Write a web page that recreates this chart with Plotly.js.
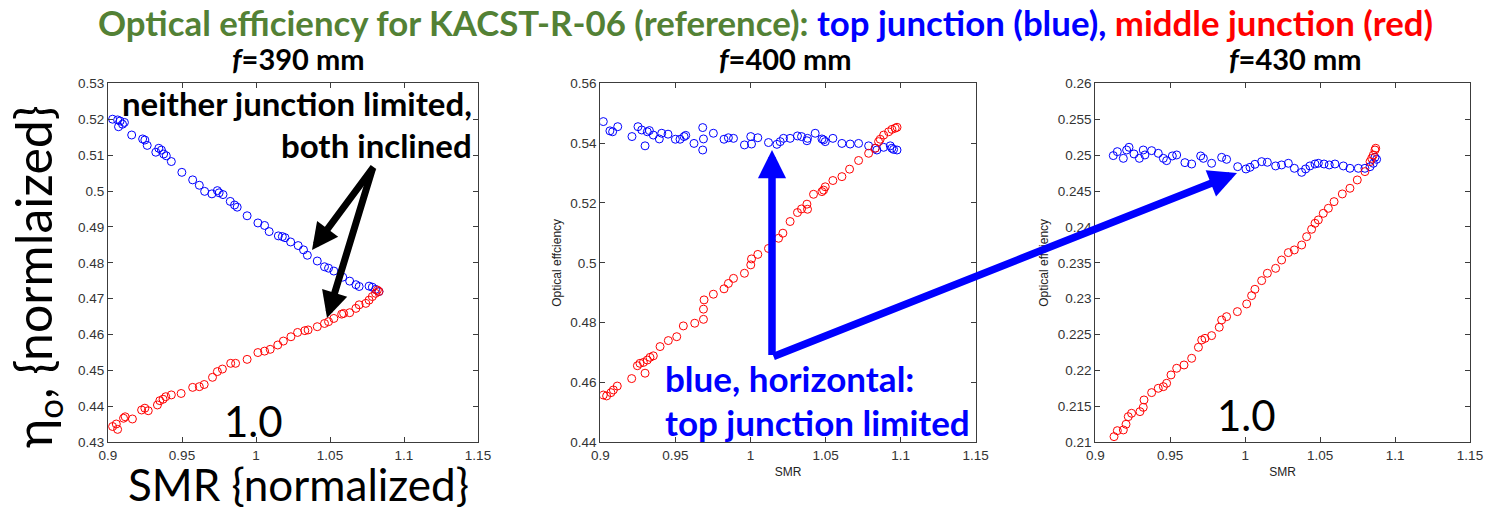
<!DOCTYPE html>
<html>
<head>
<meta charset="utf-8">
<script src="https://cdn.plot.ly/plotly-3.0.1.min.js"></script>
<style>html,body{margin:0;padding:0;background:#fff;}#chart{width:1489px;height:511px;}</style>
</head>
<body>
<div id="chart"></div>
<script>
// ---- Data ----
// f = 390 mm
const smr390Top = [0.9031,0.9065,0.9082,0.9111,0.9071,0.9098,0.9160,0.9234,0.9249,0.9265,0.9323,0.9343,0.9361,0.9376,0.9394,0.9428,0.9499,0.9572,0.9617,0.9653,0.9702,0.9739,0.9751,0.9777,0.9826,0.9855,0.9873,0.9940,1.0013,1.0058,1.0089,1.0151,1.0178,1.0196,1.0234,1.0285,1.0321,1.0347,1.0414,1.0463,1.0490,1.0526,1.0586,1.0633,1.0675,1.0697,1.0764,1.0786,1.0808,1.0831];
const eff390Top = [0.5200,0.5198,0.5195,0.5191,0.5179,0.5186,0.5156,0.5145,0.5142,0.5127,0.5108,0.5119,0.5114,0.5103,0.5098,0.5082,0.5052,0.5031,0.5016,0.4999,0.4992,0.5001,0.4995,0.4990,0.4971,0.4961,0.4955,0.4931,0.4911,0.4904,0.4887,0.4875,0.4873,0.4870,0.4858,0.4848,0.4836,0.4821,0.4805,0.4789,0.4785,0.4777,0.4760,0.4749,0.4739,0.4734,0.4735,0.4732,0.4726,0.4720];
const smr390Mid = [0.9031,0.9065,0.9056,0.9105,0.9116,0.9165,0.9227,0.9249,0.9272,0.9334,0.9350,0.9372,0.9390,0.9428,0.9494,0.9572,0.9617,0.9650,0.9706,0.9739,0.9773,0.9829,0.9862,0.9940,1.0013,1.0058,1.0096,1.0147,1.0185,1.0236,1.0281,1.0330,1.0352,1.0414,1.0463,1.0490,1.0526,1.0579,1.0592,1.0633,1.0675,1.0697,1.0742,1.0764,1.0786,1.0808,1.0820,1.0831];
const eff390Mid = [0.4344,0.4336,0.4351,0.4367,0.4371,0.4365,0.4390,0.4395,0.4388,0.4404,0.4416,0.4420,0.4427,0.4432,0.4436,0.4453,0.4455,0.4461,0.4481,0.4497,0.4504,0.4520,0.4520,0.4531,0.4550,0.4554,0.4559,0.4571,0.4582,0.4594,0.4606,0.4611,0.4613,0.4622,0.4631,0.4636,0.4645,0.4657,0.4659,0.4661,0.4673,0.4683,0.4687,0.4696,0.4706,0.4715,0.4724,0.4720];
// f = 400 mm
const smr400Top = [0.9020,0.9064,0.9082,0.9116,0.9211,0.9251,0.9276,0.9298,0.9313,0.9327,0.9353,0.9393,0.9409,0.9451,0.9500,0.9531,0.9558,0.9569,0.9624,0.9682,0.9687,0.9682,0.9753,0.9824,0.9853,0.9887,0.9960,1.0002,1.0007,1.0049,1.0120,1.0176,1.0198,1.0220,1.0264,1.0313,1.0340,1.0376,1.0380,1.0431,1.0476,1.0487,1.0498,1.0549,1.0609,1.0664,1.0720,1.0787,1.0831,1.0842,1.0887,1.0931,1.0942,1.0953,1.0976];
const eff400Top = [0.5472,0.5441,0.5438,0.5455,0.5422,0.5455,0.5444,0.5391,0.5438,0.5442,0.5427,0.5414,0.5433,0.5430,0.5413,0.5413,0.5422,0.5426,0.5399,0.5452,0.5414,0.5377,0.5433,0.5413,0.5418,0.5416,0.5394,0.5422,0.5397,0.5418,0.5402,0.5396,0.5405,0.5416,0.5416,0.5424,0.5422,0.5408,0.5416,0.5433,0.5414,0.5411,0.5405,0.5416,0.5399,0.5397,0.5399,0.5391,0.5383,0.5377,0.5386,0.5391,0.5383,0.5379,0.5377];
const smr400Mid = [0.9020,0.9042,0.9071,0.9087,0.9113,0.9209,0.9247,0.9264,0.9287,0.9298,0.9313,0.9331,0.9353,0.9398,0.9453,0.9509,0.9553,0.9629,0.9687,0.9687,0.9691,0.9753,0.9824,0.9853,0.9887,0.9960,1.0002,1.0007,1.0049,1.0120,1.0187,1.0216,1.0264,1.0313,1.0340,1.0376,1.0380,1.0420,1.0476,1.0487,1.0498,1.0549,1.0609,1.0660,1.0720,1.0787,1.0831,1.0853,1.0864,1.0887,1.0920,1.0942,1.0964,1.0976];
const eff400Mid = [0.4558,0.4555,0.4566,0.4575,0.4588,0.4613,0.4656,0.4664,0.4667,0.4631,0.4675,0.4684,0.4689,0.4720,0.4740,0.4753,0.4789,0.4798,0.4811,0.4845,0.4876,0.4895,0.4913,0.4931,0.4948,0.4965,0.4993,0.5013,0.5028,0.5048,0.5082,0.5099,0.5138,0.5168,0.5180,0.5196,0.5179,0.5229,0.5238,0.5243,0.5254,0.5275,0.5288,0.5313,0.5342,0.5366,0.5383,0.5405,0.5413,0.5427,0.5438,0.5446,0.5450,0.5453];
// f = 430 mm
const smr430Top = [0.9120,0.9147,0.9187,0.9209,0.9225,0.9258,0.9294,0.9320,0.9331,0.9376,0.9420,0.9454,0.9476,0.9514,0.9543,0.9598,0.9643,0.9703,0.9721,0.9776,0.9843,0.9876,0.9950,1.0005,1.0032,1.0065,1.0110,1.0148,1.0203,1.0243,1.0288,1.0328,1.0377,1.0403,1.0432,1.0466,1.0488,1.0526,1.0561,1.0599,1.0655,1.0699,1.0755,1.0799,1.0833,1.0855,1.0877,1.0866];
const eff430Top = [0.24993,0.25048,0.24955,0.25071,0.25109,0.25016,0.24955,0.25071,0.25002,0.25062,0.25025,0.24955,0.24923,0.24988,0.25002,0.24895,0.24876,0.24988,0.24955,0.24886,0.24969,0.24941,0.24839,0.24807,0.24830,0.24872,0.24909,0.24900,0.24849,0.24863,0.24886,0.24816,0.24760,0.24807,0.24849,0.24876,0.24886,0.24876,0.24863,0.24876,0.24849,0.24816,0.24816,0.24816,0.24839,0.24886,0.24941,0.24969];
const smr430Mid = [0.9125,0.9147,0.9187,0.9205,0.9220,0.9242,0.9298,0.9320,0.9325,0.9376,0.9420,0.9454,0.9476,0.9505,0.9543,0.9592,0.9643,0.9688,0.9710,0.9732,0.9776,0.9827,0.9843,0.9876,0.9948,1.0010,1.0043,1.0065,1.0110,1.0148,1.0203,1.0243,1.0288,1.0328,1.0377,1.0410,1.0443,1.0466,1.0488,1.0521,1.0555,1.0593,1.0648,1.0699,1.0748,1.0799,1.0833,1.0844,1.0855,1.0866,1.0871];
const eff430Mid = [0.21079,0.21162,0.21172,0.21251,0.21357,0.21404,0.21427,0.21487,0.21590,0.21692,0.21752,0.21775,0.21822,0.21938,0.22031,0.22077,0.22170,0.22323,0.22425,0.22448,0.22486,0.22602,0.22704,0.22750,0.22820,0.22927,0.23043,0.23131,0.23252,0.23354,0.23423,0.23539,0.23642,0.23679,0.23748,0.23864,0.23967,0.24050,0.24097,0.24189,0.24259,0.24352,0.24459,0.24538,0.24654,0.24770,0.24909,0.24955,0.25002,0.25071,0.25095];

const panelTitles = ['<b><i>f</i>=390 mm</b>', '<b><i>f</i>=400 mm</b>', '<b><i>f</i>=430 mm</b>'];
const xTitle = 'SMR';
const yTitle = 'Optical effciency';

// ---- Layout helpers ----
const W = 1489, H = 511;
const PX = x => x / W;
const PY = y => 1 - y / H;

function scatter(x, y, color, xa, ya) {
  return {x: x, y: y, xaxis: xa, yaxis: ya, type: 'scatter', mode: 'markers',
    marker: {symbol: 'circle-open', size: 8, color: color, line: {width: 1, color: color}},
    hoverinfo: 'skip', showlegend: false};
}
const traces = [
  scatter(smr390Top, eff390Top, '#0000ff', 'x', 'y'),
  scatter(smr390Mid, eff390Mid, '#ff0000', 'x', 'y'),
  scatter(smr400Top, eff400Top, '#0000ff', 'x2', 'y2'),
  scatter(smr400Mid, eff400Mid, '#ff0000', 'x2', 'y2'),
  scatter(smr430Top, eff430Top, '#0000ff', 'x3', 'y3'),
  scatter(smr430Mid, eff430Mid, '#ff0000', 'x3', 'y3')
];

const tickFont = {family: 'Liberation Sans, Arial, sans-serif', size: 13.5, color: '#333'};
function axis(extra) {
  return Object.assign({showline: true, mirror: 'ticks', linecolor: '#3c3c3c', linewidth: 1,
    ticks: 'inside', ticklen: 5, tickcolor: '#3c3c3c', showgrid: false, zeroline: false,
    tickfont: tickFont, fixedrange: true}, extra);
}
const yDom = [PY(442.3), PY(83.3)];
const xr = [0.9, 1.15];
const axTitleFont = {family: 'Liberation Sans, Arial, sans-serif', size: 12, color: '#222'};

const layout = {
  width: W, height: H, margin: {l: 0, r: 0, t: 0, b: 0},
  paper_bgcolor: '#fff', plot_bgcolor: '#fff', showlegend: false,
  xaxis: axis({domain: [PX(108), PX(478)], range: xr, tick0: 0.9, dtick: 0.05, anchor: 'y'}),
  yaxis: axis({domain: yDom, range: [0.43, 0.53], tick0: 0.43, dtick: 0.01, anchor: 'x'}),
  xaxis2: axis({domain: [PX(600.3), PX(975.7)], range: xr, tick0: 0.9, dtick: 0.05, anchor: 'y2',
    title: {text: xTitle, font: axTitleFont, standoff: 6}}),
  yaxis2: axis({domain: yDom, range: [0.44, 0.56], tick0: 0.44, dtick: 0.02, anchor: 'x2',
    title: {text: yTitle, font: axTitleFont, standoff: 6}}),
  xaxis3: axis({domain: [PX(1095.3), PX(1470)], range: xr, tick0: 0.9, dtick: 0.05, anchor: 'y3',
    title: {text: xTitle, font: axTitleFont, standoff: 6}}),
  yaxis3: axis({domain: yDom, range: [0.21, 0.26], tick0: 0.21, dtick: 0.005, anchor: 'x3',
    title: {text: yTitle, font: axTitleFont, standoff: 6}}),
  annotations: [],
  font: {family: 'Lato, Liberation Sans, sans-serif'}
};

const A = layout.annotations;
function txt(text, x, y, size, color, xanchor, extra) {
  A.push(Object.assign({text: text, xref: 'paper', yref: 'paper', x: PX(x), y: PY(y),
    xanchor: xanchor || 'center', yanchor: 'middle', showarrow: false, borderpad: 0,
    font: {family: 'Lato, sans-serif', size: size, color: color || '#000'}}, extra || {}));
}
function arrow(hx, hy, tx, ty, color, width) {
  A.push({text: ' ', xref: 'paper', yref: 'paper', x: PX(hx), y: PY(hy),
    ax: tx - hx, ay: ty - hy, axref: 'pixel', ayref: 'pixel', showarrow: true,
    arrowhead: 2, arrowsize: 0.75, arrowwidth: width, arrowcolor: color, standoff: 0,
    font: {size: 1}});
}

// main title
txt('<b><span style="color:#538135">Optical efficiency for KACST-R-06 (reference): </span>' +
    '<span style="color:#0000ff">top junction (blue),</span>' +
    '<span style="color:#ff0000"> middle junction (red)</span></b>', 765, 22, 34.8, '#538135');
// panel titles
txt(panelTitles[0], 298, 58, 29);
txt(panelTitles[1], 785, 58, 29);
txt(panelTitles[2], 1295, 58, 29);
// big axis labels of the first panel
txt('η<sub>o</sub>, {normlaized}', 36, 277, 50, '#000', 'center', {textangle: -90});
txt('SMR {normalized}', 298, 511, 44, '#000', 'center', {yanchor: 'bottom'});
// panel 1 annotation
txt('<b>neither junction limited,</b>', 473, 103, 33, '#000', 'right');
txt('<b>both inclined</b>', 473, 145, 33, '#000', 'right');
arrow(312, 250, 375, 165, '#000', 7);
arrow(327, 318, 373, 167, '#000', 7);
txt('1.0', 253, 421, 42);
txt('1.0', 1246, 415, 42);
// panel 2 annotation
txt('<b>blue, horizontal:</b>', 664, 378, 35, '#0000ff', 'left');
txt('<b>top junction limited</b>', 664, 422, 35, '#0000ff', 'left');
arrow(772, 150, 772, 357, '#0000ff', 7.5);
arrow(1237, 173, 772, 357, '#0000ff', 7.5);

Plotly.newPlot('chart', traces, layout, {displayModeBar: false, staticPlot: true});
</script>
</body>
</html>
